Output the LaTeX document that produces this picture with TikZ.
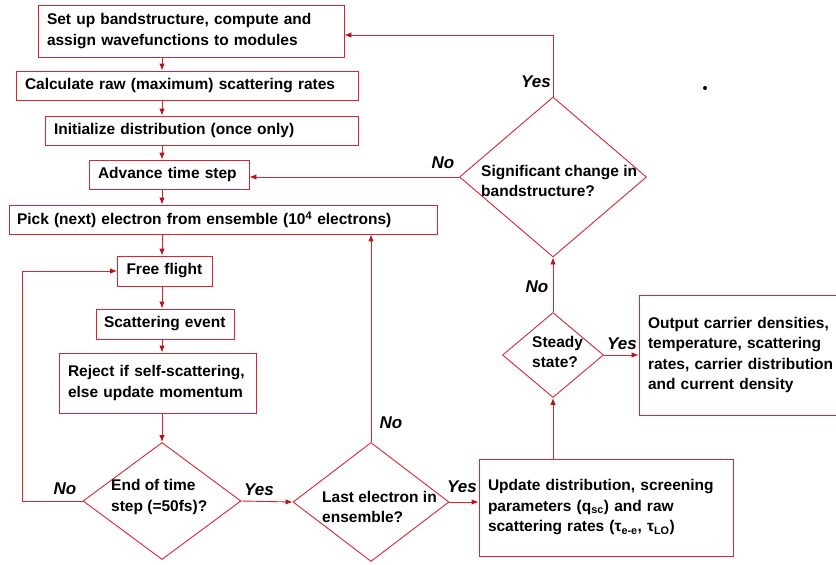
\documentclass[tikz,border=0pt]{standalone}
\usepackage{fontspec}
\setmainfont{Liberation Sans}
\usetikzlibrary{shapes.geometric,arrows.meta}
\definecolor{lc}{RGB}{216,38,48}
\definecolor{ac}{RGB}{180,20,30}
\newcommand\mainf{\fontsize{15.5}{20.5}\selectfont\bfseries}
\newcommand\lblf{\fontsize{17}{20}\selectfont\bfseries\itshape}
\tikzset{
  box/.style={draw=lc, line width=0.9pt, rectangle, inner ysep=0pt, align=left, font=\mainf},
  dtext/.style={anchor=west, inner sep=0pt, align=left, font=\mainf},
  lbl/.style={inner sep=0pt, font=\lblf},
  dia/.style={draw=lc, diamond, line width=0.9pt, inner sep=0pt},
  arr/.style={draw=lc, line width=0.9pt, -{Latex[length=7pt,width=5.5pt,color=ac]}},
}
\begin{document}
\begin{tikzpicture}[x=1pt,y=-1pt]
\useasboundingbox (0,0) rectangle (836,565);
% boxes
\node[box, minimum width=306pt, minimum height=52pt, inner xsep=9pt, text width=288pt] (box1) at (191,31) {Set up bandstructure, compute and\\assign wavefunctions to modules};
\node[box, minimum width=342pt, minimum height=29pt, inner xsep=9pt, text width=324pt] (box2) at (187,85.5) {Calculate raw (maximum) scattering rates};
\node[box, minimum width=313pt, minimum height=29pt, inner xsep=9pt, text width=295pt] (box3) at (201.5,130.5) {Initialize distribution (once only)};
\node[box, minimum width=160pt, minimum height=29pt, inner xsep=9pt, text width=142pt] (box4) at (169,174.5) {Advance time step};
\node[box, minimum width=428pt, minimum height=29pt, inner xsep=8pt, text width=412pt] (box5) at (223,219.5) {Pick (next) electron from ensemble (10\textsuperscript{4} electrons)};
\node[box, minimum width=95pt, minimum height=30pt, inner xsep=9pt, text width=77pt] (free) at (165,271) {Free flight};
\node[box, minimum width=138pt, minimum height=30pt, inner xsep=8pt, text width=122pt] (scat) at (165,324) {Scattering event};
\node[box, minimum width=197pt, minimum height=60pt, inner xsep=9pt, text width=179pt] (rej) at (157.5,383) {Reject if self-scattering,\\else update momentum};
\node[box, minimum width=254pt, minimum height=97pt, inner xsep=9pt, text width=236pt] (upd) at (606,507.5) {Update distribution, screening\\parameters (q\textsubscript{sc}) and raw\\scattering rates (τ\textsubscript{e-e}, τ\textsubscript{LO})};
\node[box, minimum width=206pt, minimum height=120pt, inner xsep=9pt, text width=188pt] (out) at (742,355) {Output carrier densities,\\temperature, scattering\\rates, carrier distribution\\and current density};
% diamonds
\node[dia, minimum width=187pt, minimum height=160pt] (dSig) at (553,177) {};
\node[dtext] (tSig) at (481,181) {Significant change in\\bandstructure?};
\node[dia, minimum width=101pt, minimum height=85pt] (dSteady) at (553,355) {};
\node[dtext] (tSteady) at (532,352) {Steady\\state?};
\node[dia, minimum width=158pt, minimum height=117pt] (dEnd) at (162,501) {};
\node[dtext] (tEnd) at (111,497) {End of time\\step (=50fs)?};
\node[dia, minimum width=156pt, minimum height=119pt] (dLast) at (371,502) {};
\node[dtext] (tLast) at (322,507) {Last electron in\\ensemble?};
% labels
\node[lbl] (l1) at (536,82) {Yes};
\node[lbl] (l2) at (443,163) {No};
\node[lbl] (l3) at (537,287) {No};
\node[lbl] (l4) at (622,344) {Yes};
\node[lbl] (l5) at (65,489) {No};
\node[lbl] (l6) at (259,490) {Yes};
\node[lbl] (l7) at (391,423) {No};
\node[lbl] (l8) at (462,487) {Yes};
% helper coordinates
\coordinate (ax) at (162,0);
\coordinate (lp) at (22,0);
\coordinate (ty) at (0,35);
% main chain
\draw[arr] (ax |- box1.south) -- (ax |- box2.north);
\draw[arr] (ax |- box2.south) -- (ax |- box3.north);
\draw[arr] (ax |- box3.south) -- (ax |- box4.north);
\draw[arr] (ax |- box4.south) -- (ax |- box5.north);
\draw[arr] (ax |- box5.south) -- (ax |- free.north);
\draw[arr] (ax |- free.south) -- (ax |- scat.north);
\draw[arr] (ax |- scat.south) -- (ax |- rej.north);
\draw[arr] (rej.south -| dEnd.north) -- (dEnd.north);
% loops
\draw[arr] (dEnd.west) -- (lp |- dEnd.west) -- (lp |- free.west) -- (free.west);
\draw[arr] (dEnd.east) -- (dLast.west);
\draw[arr] (dLast.north) -- (dLast.north |- box5.south);
\draw[arr] (dLast.east) -- (upd.west |- dLast.east);
\draw[arr] (dSteady.south |- upd.north) -- (dSteady.south);
\draw[arr] (dSteady.east) -- (out.west |- dSteady.east);
\draw[arr] (dSteady.north) -- (dSig.south);
\draw[arr] (dSig.west) -- (box4.east |- dSig.west);
\draw[arr] (dSig.north) -- (dSig.north |- ty) -- (box1.east |- ty);
% stray dot
\fill (705,88) circle (2pt);
\end{tikzpicture}
\end{document}
